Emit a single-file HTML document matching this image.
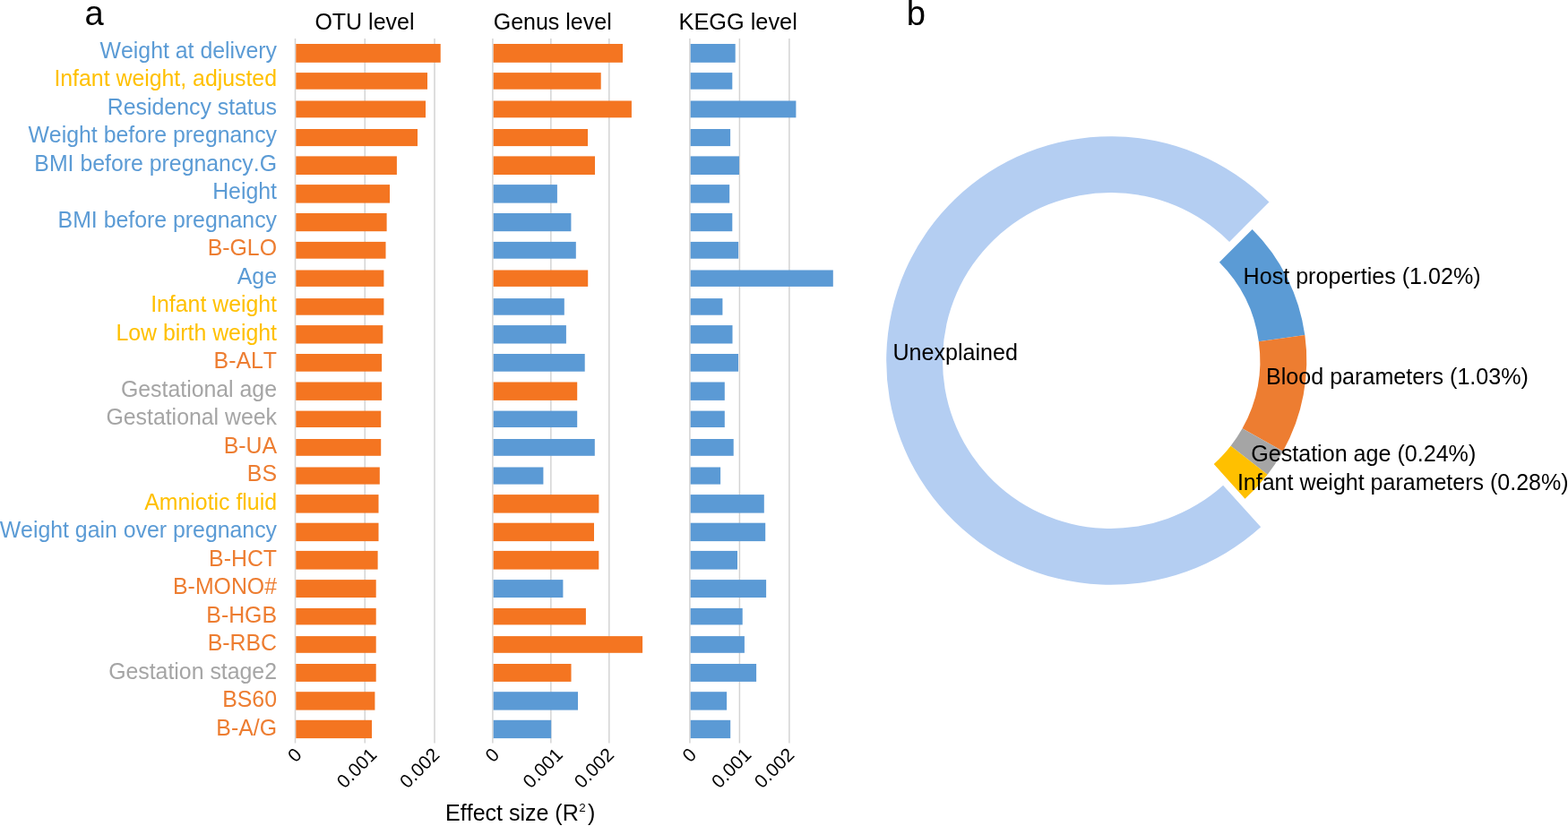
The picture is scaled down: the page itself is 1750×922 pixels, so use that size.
<!DOCTYPE html>
<html><head><meta charset="utf-8"><title>Effect size figure</title>
<style>html,body{margin:0;padding:0;background:#fff;width:1750px;height:922px;overflow:hidden;position:relative}</style>
</head><body>
<svg width="1750" height="922" viewBox="0 0 1750 922" style="position:absolute;left:0;top:0">
<g font-family='"Liberation Sans", sans-serif' style="font-kerning:none">
<rect x="328.75" y="43.0" width="1.5" height="786.5" fill="#D4D4D4"/>
<rect x="406.50" y="43.0" width="1.5" height="786.5" fill="#D4D4D4"/>
<rect x="484.25" y="43.0" width="1.5" height="786.5" fill="#D4D4D4"/>
<rect x="549.15" y="43.0" width="1.5" height="786.5" fill="#D4D4D4"/>
<rect x="614.10" y="43.0" width="1.5" height="786.5" fill="#D4D4D4"/>
<rect x="679.05" y="43.0" width="1.5" height="786.5" fill="#D4D4D4"/>
<rect x="769.15" y="43.0" width="1.5" height="786.5" fill="#D4D4D4"/>
<rect x="824.65" y="43.0" width="1.5" height="786.5" fill="#D4D4D4"/>
<rect x="880.15" y="43.0" width="1.5" height="786.5" fill="#D4D4D4"/>
<rect x="330.30" y="49.00" width="161.40" height="20.80" fill="#F47521"/>
<rect x="330.30" y="81.10" width="146.70" height="18.60" fill="#F47521"/>
<rect x="330.30" y="112.50" width="144.70" height="18.80" fill="#F47521"/>
<rect x="330.30" y="144.00" width="135.70" height="19.10" fill="#F47521"/>
<rect x="330.30" y="174.40" width="112.60" height="20.60" fill="#F47521"/>
<rect x="330.30" y="206.10" width="104.70" height="20.50" fill="#F47521"/>
<rect x="330.30" y="238.00" width="101.30" height="20.20" fill="#F47521"/>
<rect x="330.30" y="269.90" width="100.20" height="18.80" fill="#F47521"/>
<rect x="330.30" y="301.50" width="98.10" height="18.40" fill="#F47521"/>
<rect x="330.30" y="333.10" width="98.10" height="18.60" fill="#F47521"/>
<rect x="330.30" y="363.10" width="97.00" height="20.40" fill="#F47521"/>
<rect x="330.30" y="395.00" width="95.80" height="19.70" fill="#F47521"/>
<rect x="330.30" y="426.50" width="95.80" height="20.40" fill="#F47521"/>
<rect x="330.30" y="458.60" width="94.90" height="18.40" fill="#F47521"/>
<rect x="330.30" y="490.00" width="94.90" height="18.80" fill="#F47521"/>
<rect x="330.30" y="521.50" width="93.50" height="19.10" fill="#F47521"/>
<rect x="330.30" y="552.10" width="92.20" height="20.50" fill="#F47521"/>
<rect x="330.30" y="583.70" width="92.20" height="20.40" fill="#F47521"/>
<rect x="330.30" y="614.90" width="91.30" height="20.70" fill="#F47521"/>
<rect x="330.30" y="647.10" width="89.40" height="19.90" fill="#F47521"/>
<rect x="330.30" y="678.90" width="89.40" height="18.50" fill="#F47521"/>
<rect x="330.30" y="710.10" width="89.40" height="18.70" fill="#F47521"/>
<rect x="330.30" y="741.00" width="89.40" height="19.90" fill="#F47521"/>
<rect x="330.30" y="772.20" width="88.10" height="20.40" fill="#F47521"/>
<rect x="330.30" y="803.80" width="84.70" height="20.30" fill="#F47521"/>
<rect x="550.70" y="49.00" width="144.30" height="20.80" fill="#F47521"/>
<rect x="550.70" y="81.10" width="120.00" height="18.60" fill="#F47521"/>
<rect x="550.70" y="112.50" width="154.20" height="18.80" fill="#F47521"/>
<rect x="550.70" y="144.00" width="105.30" height="19.10" fill="#F47521"/>
<rect x="550.70" y="174.40" width="113.30" height="20.60" fill="#F47521"/>
<rect x="550.70" y="206.10" width="71.20" height="20.50" fill="#5B9AD5"/>
<rect x="550.70" y="238.00" width="86.70" height="20.20" fill="#5B9AD5"/>
<rect x="550.70" y="269.90" width="92.10" height="18.80" fill="#5B9AD5"/>
<rect x="550.70" y="301.50" width="105.50" height="18.40" fill="#F47521"/>
<rect x="550.70" y="333.10" width="79.10" height="18.60" fill="#5B9AD5"/>
<rect x="550.70" y="363.10" width="81.20" height="20.40" fill="#5B9AD5"/>
<rect x="550.70" y="395.00" width="102.00" height="19.70" fill="#5B9AD5"/>
<rect x="550.70" y="426.50" width="93.50" height="20.40" fill="#F47521"/>
<rect x="550.70" y="458.60" width="93.50" height="18.40" fill="#5B9AD5"/>
<rect x="550.70" y="490.00" width="113.10" height="18.80" fill="#5B9AD5"/>
<rect x="550.70" y="521.50" width="55.70" height="19.10" fill="#5B9AD5"/>
<rect x="550.70" y="552.10" width="117.70" height="20.50" fill="#F47521"/>
<rect x="550.70" y="583.70" width="112.30" height="20.40" fill="#F47521"/>
<rect x="550.70" y="614.90" width="117.60" height="20.70" fill="#F47521"/>
<rect x="550.70" y="647.10" width="77.70" height="19.90" fill="#5B9AD5"/>
<rect x="550.70" y="678.90" width="103.20" height="18.50" fill="#F47521"/>
<rect x="550.70" y="710.10" width="166.40" height="18.70" fill="#F47521"/>
<rect x="550.70" y="741.00" width="86.80" height="19.90" fill="#F47521"/>
<rect x="550.70" y="772.20" width="94.30" height="20.40" fill="#5B9AD5"/>
<rect x="550.70" y="803.80" width="64.50" height="20.30" fill="#5B9AD5"/>
<rect x="770.70" y="49.00" width="50.00" height="20.80" fill="#5B9AD5"/>
<rect x="770.70" y="81.10" width="46.60" height="18.60" fill="#5B9AD5"/>
<rect x="770.70" y="112.50" width="117.70" height="18.80" fill="#5B9AD5"/>
<rect x="770.70" y="144.00" width="44.40" height="19.10" fill="#5B9AD5"/>
<rect x="770.70" y="174.40" width="54.30" height="20.60" fill="#5B9AD5"/>
<rect x="770.70" y="206.10" width="43.50" height="20.50" fill="#5B9AD5"/>
<rect x="770.70" y="238.00" width="46.60" height="20.20" fill="#5B9AD5"/>
<rect x="770.70" y="269.90" width="53.40" height="18.80" fill="#5B9AD5"/>
<rect x="770.70" y="301.50" width="159.10" height="18.40" fill="#5B9AD5"/>
<rect x="770.70" y="333.10" width="35.70" height="18.60" fill="#5B9AD5"/>
<rect x="770.70" y="363.10" width="46.80" height="20.40" fill="#5B9AD5"/>
<rect x="770.70" y="395.00" width="53.30" height="19.70" fill="#5B9AD5"/>
<rect x="770.70" y="426.50" width="38.10" height="20.40" fill="#5B9AD5"/>
<rect x="770.70" y="458.60" width="38.10" height="18.40" fill="#5B9AD5"/>
<rect x="770.70" y="490.00" width="48.00" height="18.80" fill="#5B9AD5"/>
<rect x="770.70" y="521.50" width="33.40" height="19.10" fill="#5B9AD5"/>
<rect x="770.70" y="552.10" width="82.10" height="20.50" fill="#5B9AD5"/>
<rect x="770.70" y="583.70" width="83.50" height="20.40" fill="#5B9AD5"/>
<rect x="770.70" y="614.90" width="52.30" height="20.70" fill="#5B9AD5"/>
<rect x="770.70" y="647.10" width="84.40" height="19.90" fill="#5B9AD5"/>
<rect x="770.70" y="678.90" width="58.00" height="18.50" fill="#5B9AD5"/>
<rect x="770.70" y="710.10" width="60.20" height="18.70" fill="#5B9AD5"/>
<rect x="770.70" y="741.00" width="73.40" height="19.90" fill="#5B9AD5"/>
<rect x="770.70" y="772.20" width="40.40" height="20.40" fill="#5B9AD5"/>
<rect x="770.70" y="803.80" width="44.50" height="20.30" fill="#5B9AD5"/>
<text x="309.0" y="64.75" font-size="24.85" fill="#5B9BD5" text-anchor="end">Weight at delivery</text>
<text x="309.0" y="96.25" font-size="24.85" fill="#FFC000" text-anchor="end">Infant weight, adjusted</text>
<text x="309.0" y="127.75" font-size="24.85" fill="#5B9BD5" text-anchor="end">Residency status</text>
<text x="309.0" y="159.25" font-size="24.85" fill="#5B9BD5" text-anchor="end">Weight before pregnancy</text>
<text x="309.0" y="190.75" font-size="24.85" fill="#5B9BD5" text-anchor="end">BMI before pregnancy.G</text>
<text x="309.0" y="222.25" font-size="24.85" fill="#5B9BD5" text-anchor="end">Height</text>
<text x="309.0" y="253.75" font-size="24.85" fill="#5B9BD5" text-anchor="end">BMI before pregnancy</text>
<text x="309.0" y="285.25" font-size="24.85" fill="#ED7D31" text-anchor="end">B-GLO</text>
<text x="309.0" y="316.75" font-size="24.85" fill="#5B9BD5" text-anchor="end">Age</text>
<text x="309.0" y="348.25" font-size="24.85" fill="#FFC000" text-anchor="end">Infant weight</text>
<text x="309.0" y="379.75" font-size="24.85" fill="#FFC000" text-anchor="end">Low birth weight</text>
<text x="309.0" y="411.25" font-size="24.85" fill="#ED7D31" text-anchor="end">B-ALT</text>
<text x="309.0" y="442.75" font-size="24.85" fill="#A5A5A5" text-anchor="end">Gestational age</text>
<text x="309.0" y="474.25" font-size="24.85" fill="#A5A5A5" text-anchor="end">Gestational week</text>
<text x="309.0" y="505.75" font-size="24.85" fill="#ED7D31" text-anchor="end">B-UA</text>
<text x="309.0" y="537.25" font-size="24.85" fill="#ED7D31" text-anchor="end">BS</text>
<text x="309.0" y="568.75" font-size="24.85" fill="#FFC000" text-anchor="end">Amniotic fluid</text>
<text x="309.0" y="600.25" font-size="24.85" fill="#5B9BD5" text-anchor="end">Weight gain over pregnancy</text>
<text x="309.0" y="631.75" font-size="24.85" fill="#ED7D31" text-anchor="end">B-HCT</text>
<text x="309.0" y="663.25" font-size="24.85" fill="#ED7D31" text-anchor="end">B-MONO#</text>
<text x="309.0" y="694.75" font-size="24.85" fill="#ED7D31" text-anchor="end">B-HGB</text>
<text x="309.0" y="726.25" font-size="24.85" fill="#ED7D31" text-anchor="end">B-RBC</text>
<text x="309.0" y="757.75" font-size="24.85" fill="#A5A5A5" text-anchor="end">Gestation stage2</text>
<text x="309.0" y="789.25" font-size="24.85" fill="#ED7D31" text-anchor="end">BS60</text>
<text x="309.0" y="820.75" font-size="24.85" fill="#ED7D31" text-anchor="end">B-A/G</text>
<text x="351.4" y="33.3" font-size="25" fill="#000">OTU level</text>
<text x="550.7" y="33.3" font-size="25" fill="#000">Genus level</text>
<text x="757.6" y="33.3" font-size="25.3" fill="#000">KEGG level</text>
<text x="94.6" y="27.5" font-size="38.2" fill="#000">a</text>
<text x="1011.8" y="27.7" font-size="38.2" fill="#000">b</text>
<text x="338.00" y="843.8" font-size="21.0" fill="#000" text-anchor="end" transform="rotate(-45 338.00 843.8)">0</text>
<text x="421.75" y="843.8" font-size="21.0" fill="#000" text-anchor="end" transform="rotate(-45 421.75 843.8)">0.001</text>
<text x="491.80" y="843.8" font-size="21.0" fill="#000" text-anchor="end" transform="rotate(-45 491.80 843.8)">0.002</text>
<text x="558.40" y="843.8" font-size="21.0" fill="#000" text-anchor="end" transform="rotate(-45 558.40 843.8)">0</text>
<text x="629.35" y="843.8" font-size="21.0" fill="#000" text-anchor="end" transform="rotate(-45 629.35 843.8)">0.001</text>
<text x="686.60" y="843.8" font-size="21.0" fill="#000" text-anchor="end" transform="rotate(-45 686.60 843.8)">0.002</text>
<text x="778.40" y="843.8" font-size="21.0" fill="#000" text-anchor="end" transform="rotate(-45 778.40 843.8)">0</text>
<text x="839.90" y="843.8" font-size="21.0" fill="#000" text-anchor="end" transform="rotate(-45 839.90 843.8)">0.001</text>
<text x="887.70" y="843.8" font-size="21.0" fill="#000" text-anchor="end" transform="rotate(-45 887.70 843.8)">0.002</text>
<text x="497.1" y="916.3" font-size="25" fill="#000">Effect size (R<tspan font-size="13.4" dx="0.5" dy="-10.5">2</tspan><tspan dx="2.4" dy="10.5">)</tspan></text>
<path d="M1407.15,588.36 A250.3,250.3 0 1 1 1416.49,225.51 L1372.08,269.92 A187.5,187.5 0 1 0 1365.08,541.73 Z" fill="#B4CEF2"/>
<path d="M1397.64,256.06 A207.1,207.1 0 0 1 1456.33,374.04 L1404.83,381.18 A155.1,155.1 0 0 0 1360.87,292.83 Z" fill="#5B9BD5"/>
<path d="M1456.33,374.04 A207.1,207.1 0 0 1 1431.89,503.69 L1386.52,478.29 A155.1,155.1 0 0 0 1404.83,381.18 Z" fill="#ED7D31"/>
<path d="M1431.89,503.69 A207.1,207.1 0 0 1 1414.62,529.72 L1373.59,497.78 A155.1,155.1 0 0 0 1386.52,478.29 Z" fill="#A5A5A5"/>
<path d="M1414.62,529.72 A207.1,207.1 0 0 1 1389.51,556.65 L1354.78,517.94 A155.1,155.1 0 0 0 1373.59,497.78 Z" fill="#FFC000"/>
<text x="996.4" y="402" font-size="25.1" fill="#000">Unexplained</text>
<text x="1387.6" y="317.1" font-size="25.1" fill="#000">Host properties (1.02%)</text>
<text x="1413" y="429.0" font-size="25.1" fill="#000">Blood parameters (1.03%)</text>
<text x="1396.2" y="514.6" font-size="25.1" fill="#000">Gestation age (0.24%)</text>
<text x="1380.9" y="546.8" font-size="25.0" fill="#000">Infant weight parameters (0.28%)</text>
</g></svg>
</body></html>
